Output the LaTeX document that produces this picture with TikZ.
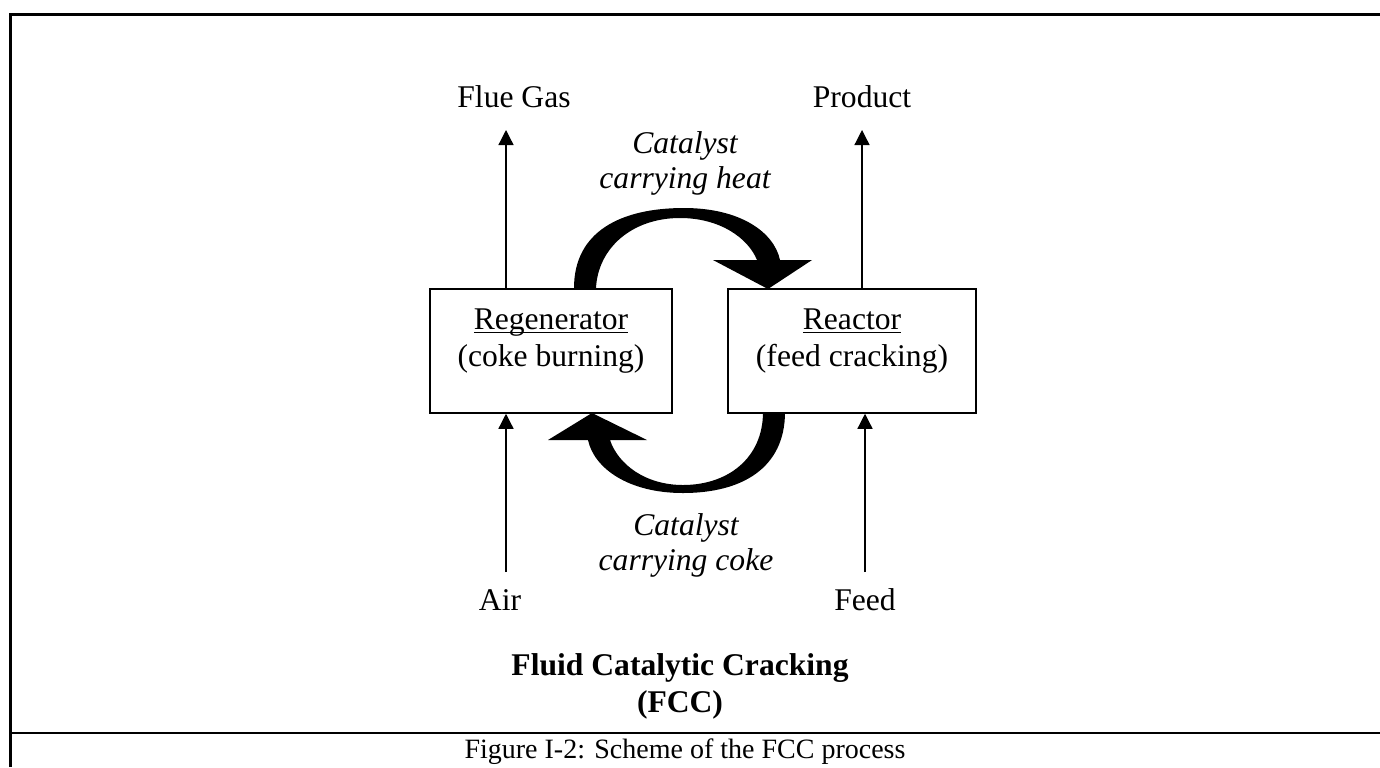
\documentclass[tikz,border=0pt]{standalone}
\usepackage{fontspec}
\setmainfont{Liberation Serif}
\usetikzlibrary{arrows.meta}

\begin{document}
\begin{tikzpicture}[x = 0.5pt, y = -0.5pt, font = \fontsize{15.8pt}{18.5pt}\selectfont,
    unit/.style = {draw, line width = 0.75pt, inner sep = 0pt, minimum height = 62pt, align = center},
    flow/.style = {line width = 0.65pt, -{Triangle[length = 7.5pt, width = 7.5pt]}},
    tag/.style = {anchor = base, inner sep = 0pt, align = center}]
    \useasboundingbox (0,0) rectangle (1380,767);
    \draw[line width = 1.5pt] (10,767) -- (10,14) -- (1380,14);
    \draw[line width = 1pt] (10,733) -- (1380,733);

    \node[unit, minimum width = 121pt] (reg) at (551,351) {\underline{\smash{Regenerator}}\\(coke burning)};
    \node[unit, minimum width = 124pt] (rea) at (852,351) {\underline{\smash{Reactor}}\\(feed cracking)};

    \node[tag] (flue) at (514,107) {Flue Gas};
    \node[tag] (prod) at (862,107) {Product};
    \node[tag] (air) at (500,610) {Air};
    \node[tag] (feed) at (865,610) {Feed};
    \node[tag, font = \fontsize{15.8pt}{17.5pt}\selectfont\itshape] (heat) at (685,188) {Catalyst\\carrying heat};
    \node[tag, font = \fontsize{15.8pt}{17.5pt}\selectfont\itshape] (coke) at (686,570) {Catalyst\\carrying coke};
    \node[tag, font = \fontsize{15.8pt}{18.5pt}\selectfont\bfseries] (title) at (680,712) {Fluid Catalytic Cracking\\(FCC)};
    \node[tag, font = \fontsize{14pt}{16pt}\selectfont] (caption) at (685,758) {Figure I-2: Scheme of the FCC process};

    \coordinate (fluetip) at (506,130);
    \coordinate (prodtip) at (862,130);
    \coordinate (airfoot) at (506,572);
    \coordinate (feedfoot) at (865,572);
    \draw[flow] (reg.north -| fluetip) -- (fluetip);
    \draw[flow] (rea.north -| prodtip) -- (prodtip);
    \draw[flow] (airfoot) -- (airfoot |- reg.south);
    \draw[flow] (feedfoot) -- (feedfoot |- rea.south);

    \fill (574,288) .. controls (574,232) and (620,208) .. (684,208)
        .. controls (740,208) and (774,232) .. (780,260) -- (812,260) -- (768,289) -- (713,260) -- (757,260)
        .. controls (748,238) and (720,218) .. (680,218)
        .. controls (632,218) and (598,248) .. (596,288) -- cycle;
    \fill (785,412) .. controls (785,468) and (742,493) .. (683,493)
        .. controls (628,493) and (594,468) .. (588,440) -- (548,440) -- (592,413) -- (647,440) -- (610,440)
        .. controls (618,464) and (645,485) .. (683,485)
        .. controls (728,485) and (763,458) .. (763,412) -- cycle;
\end{tikzpicture}
\end{document}
